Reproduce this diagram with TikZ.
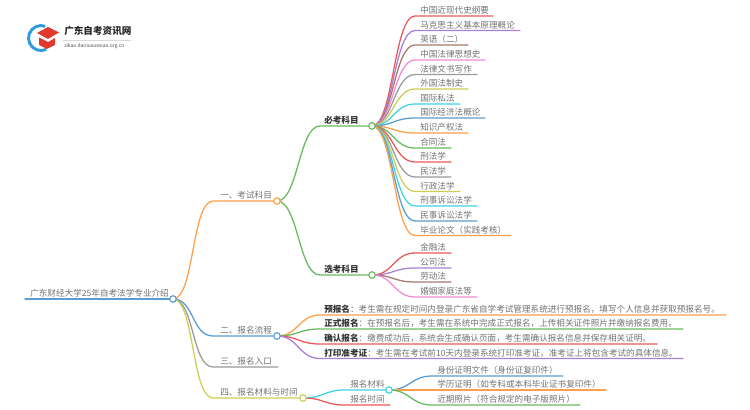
\documentclass[tikz,border=0pt]{standalone}
\usepackage{fontspec}
\setmainfont{Noto Sans CJK SC}
\usetikzlibrary{backgrounds}
\definecolor{mred}{HTML}{EB5757}
\definecolor{mpurple}{HTML}{A97FD6}
\definecolor{mbrown}{HTML}{A9766C}
\definecolor{mpink}{HTML}{EE8CD0}
\definecolor{mgray}{HTML}{9A9A9A}
\definecolor{myellow}{HTML}{CDCD55}
\definecolor{mcyan}{HTML}{3DD3E4}
\definecolor{mblue}{HTML}{5A9BD0}
\definecolor{morange}{HTML}{FF9F4A}
\definecolor{mgreen}{HTML}{66BB5F}
\definecolor{mtext}{HTML}{727272}
\definecolor{mdark}{HTML}{333333}
\definecolor{logoblue}{HTML}{2E9BDC}
\definecolor{logored}{HTML}{E0392F}
\tikzset{
  wire/.style={line width=0.95pt,line cap=round},
  hubdot/.style={circle,draw,fill=white,line width=0.85pt,minimum size=4.9pt,inner sep=0pt},
  lab/.style={anchor=west,inner sep=0pt,text=mtext,font=\fontsize{6.45pt}{7pt}\selectfont},
}
\newcommand{\hdword}[1]{\textcolor{mdark}{\textbf{#1}}}
% #1 name, #2 parent, #3 wire start x, #4 y, #5 end x, #6 colour, #7 label x, #8 text
\newcommand{\twig}[8]{%
  \coordinate (#1s) at (#3,#4);
  \coordinate (#1e) at (#5,#4);
  \node[lab] (#1) at (#7,#4-5.6) {#8};
  \begin{scope}[on background layer]
  \draw[wire,#6] (#2.center) .. controls ([xshift=16pt]#2.center) and ([xshift=-16pt]#1s) .. (#1s) -- (#1e);
  \end{scope}
}
\begin{document}
\begin{tikzpicture}[x=0.75pt,y=-0.75pt]
\useasboundingbox (0,0) rectangle (750,410);
% logo
\draw[logoblue,line width=2.2pt] (45.3,26.3) arc (-70:-295:12.5);
\fill[logored] (37,33) -- (48,27) -- (59,32.5) -- (48,39) -- cycle;
\fill[logored] (39,37.5) -- (48,42) -- (55,38) -- (55,45) -- (47,49) -- (39,45) -- cycle;
\node[anchor=west,inner sep=0pt,text=black!85,font=\fontsize{7.2pt}{8pt}\selectfont\bfseries] (brand) at (64,31) {广东自考资讯网};
\node[anchor=west,inner sep=0pt,text=black!70,font=\fontsize{3.7pt}{4pt}\selectfont] (site) at (64,46.5) {zikao.daniuxuexiao.org.cn};
\coordinate (ruleL) at (63,40); \coordinate (ruleR) at (131,40);
\draw[black!15,line width=0.4pt] (ruleL) -- (ruleR);
% main hubs
\coordinate (rootL) at (25,299);
\node[hubdot,draw=mblue] (root) at (173,299) {};
\node[lab] (roottxt) at (30,293.4) {广东财经大学25年自考法学专业介绍};
\node[hubdot,draw=morange] (h1) at (277,201) {};
\node[hubdot,draw=mblue] (h2) at (277,336) {};
\node[hubdot,draw=mgreen] (hb) at (372,126) {};
\node[hubdot,draw=mgreen] (hx) at (372,275) {};
\node[hubdot,draw=myellow] (h4) at (303,398) {};
\node[hubdot,draw=mcyan] (hm) at (389,390) {};
\begin{scope}[on background layer]
\draw[wire,mblue] (rootL) -- (root.center);
\end{scope}
\twig{b1}{root}{213}{201}{277}{morange}{220}{一、考试科目}
\twig{b2}{root}{213}{336}{277}{mblue}{220}{二、报名流程}
\twig{b3}{root}{213}{367}{278}{mgray}{220}{三、报名入口}
\twig{b4}{root}{213}{398}{303}{myellow}{220}{四、报名材料与时间}
\twig{c1}{h1}{320}{126}{372}{mgreen}{324}{\hdword{必考科目}}
\twig{c2}{h1}{320}{275}{372}{mgreen}{324}{\hdword{选考科目}}
% required subjects
\twig{r1}{hb}{415}{16}{493}{mred}{420}{中国近现代史纲要}
\twig{r2}{hb}{415}{30.5}{520}{mpurple}{420}{马克思主义基本原理概论}
\twig{r3}{hb}{415}{45}{468}{mbrown}{420}{英语（二）}
\twig{r4}{hb}{415}{60}{485}{mpink}{420}{中国法律思想史}
\twig{r5}{hb}{415}{74.5}{477}{mgray}{420}{法律文书写作}
\twig{r6}{hb}{415}{89}{468}{myellow}{420}{外国法制史}
\twig{r7}{hb}{415}{104}{460}{mcyan}{420}{国际私法}
\twig{r8}{hb}{415}{118}{485}{mblue}{420}{国际经济法概论}
\twig{r9}{hb}{415}{133}{468}{morange}{420}{知识产权法}
\twig{r10}{hb}{415}{148}{451}{mgreen}{420}{合同法}
\twig{r11}{hb}{415}{162}{451}{mred}{420}{刑法学}
\twig{r12}{hb}{415}{177}{451}{mgray}{420}{民法学}
\twig{r13}{hb}{415}{191.5}{460}{myellow}{420}{行政法学}
\twig{r14}{hb}{415}{206}{477}{mcyan}{420}{刑事诉讼法学}
\twig{r15}{hb}{415}{221}{477}{mblue}{420}{民事诉讼法学}
\twig{r16}{hb}{415}{235.5}{511}{morange}{420}{毕业论文（实践考核）}
% optional subjects
\twig{o1}{hx}{415}{253}{451}{mred}{420}{金融法}
\twig{o2}{hx}{415}{268}{451}{mpurple}{420}{公司法}
\twig{o3}{hx}{415}{282}{451}{mbrown}{420}{劳动法}
\twig{o4}{hx}{415}{297}{477}{mpink}{420}{婚姻家庭法等}
% steps
\twig{s1}{h2}{320}{315}{726}{morange}{324}{\hdword{预报名}：考生需在规定时间内登录广东省自学考试管理系统进行预报名，填写个人信息并获取预报名号。}
\twig{s2}{h2}{320}{329}{683}{mgreen}{324}{\hdword{正式报名}：在预报名后，考生需在系统中完成正式报名，上传相关证件照片并缴纳报名费用。}
\twig{s3}{h2}{320}{344}{657}{mred}{324}{\hdword{确认报名}：缴费成功后，系统会生成确认页面，考生需确认报名信息并保存相关证明。}
\twig{s4}{h2}{320}{358.5}{683}{mpurple}{324}{\hdword{打印准考证}：考生需在考试前10天内登录系统打印准考证，准考证上将包含考试的具体信息。}
% materials and time
\twig{m1}{h4}{345}{390}{389}{mcyan}{350}{报名材料}
\twig{m2}{h4}{345}{405}{390}{mred}{350}{报名时间}
\twig{d1}{hm}{432}{376}{563}{mblue}{437}{身份证明文件（身份证复印件）}
\twig{d2}{hm}{432}{390}{606}{morange}{437}{学历证明（如专科或本科毕业证书复印件）}
\twig{d3}{hm}{432}{405}{580}{mgreen}{437}{近期照片（符合规定的电子版照片）}
\end{tikzpicture}
\end{document}
